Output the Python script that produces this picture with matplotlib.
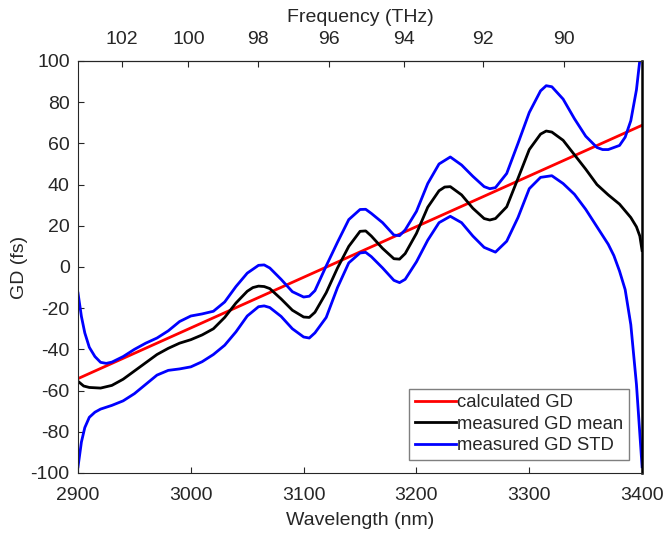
import matplotlib
matplotlib.use("Agg")
from matplotlib import pyplot as plt

plt.rcParams['font.family'] = ['Liberation Sans', 'DejaVu Sans']
plt.rcParams['axes.unicode_minus'] = False

# calculated GD (straight line)
wl_calc = [2900, 3400]
gd_calc = [-54.2, 68.8]

# measured GD mean
wl_mean = [2900, 2905, 2910, 2920, 2930, 2940, 2950, 2960, 2970, 2980, 2990,
           3000, 3010, 3020, 3030, 3040, 3050, 3055, 3060, 3065, 3070, 3080, 3090,
           3100, 3105, 3110, 3120, 3130, 3140, 3150, 3155, 3160, 3170, 3180, 3185, 3190,
           3200, 3210, 3220, 3225, 3230, 3240, 3250, 3260, 3265, 3270, 3280, 3290,
           3300, 3310, 3315, 3320, 3330, 3340, 3350, 3360, 3370, 3380, 3390,
           3395, 3398, 3400]
gd_mean = [-55.5, -57.8, -58.5, -58.8, -57.5, -54.5, -50.5, -46.5, -42.5, -39.5, -37,
           -35.3, -33, -30, -24.5, -17.5, -11.8, -10, -9.3, -9.5, -10.5, -15.5, -21,
           -24.3, -24.5, -22, -12.5, -0.5, 10, 17.3, 17.5, 15, 9, 4, 3.8, 6.5,
           16.3, 29, 37, 38.8, 39, 35, 28.5, 23.5, 22.8, 23.5, 29.2, 43,
           57, 64.5, 66, 65.5, 61.5, 54.5, 47.5, 40, 35, 30.5, 24,
           19.5, 15, 8]

# measured GD STD, upper envelope
wl_std_hi = [2900, 2903, 2906, 2910, 2915, 2920, 2925, 2930, 2940, 2950, 2960,
             2970, 2980, 2990, 3000, 3010, 3020, 3030, 3040, 3050, 3060, 3065,
             3070, 3080, 3090, 3100, 3105, 3110, 3120, 3130, 3140, 3150, 3155, 3160,
             3170, 3180, 3185, 3190, 3200, 3210, 3220, 3230, 3240, 3250, 3260,
             3265, 3270, 3280, 3290, 3300, 3310, 3315, 3320, 3330, 3340, 3350, 3360,
             3365, 3370, 3380, 3385, 3390, 3395, 3398, 3400]
gd_std_hi = [-12.7, -24, -32, -39, -43.5, -46.3, -46.8, -46.2, -43.5, -40, -37,
             -34.5, -31, -26.5, -23.8, -22.8, -21.5, -17, -9.5, -3, 0.8, 1,
             -0.5, -6, -12, -14.6, -14.2, -11.5, 0.5, 12, 23, 27.9, 28, 26,
             21.5, 15.5, 15.2, 18, 27, 40.5, 50, 53.4, 49.5, 44, 39,
             38, 38.5, 45.4, 60, 75, 85.5, 88, 87.5, 81.5, 72, 63.5, 58,
             57, 57, 59, 63, 71, 86, 100.5, 115]

# measured GD STD, lower envelope
wl_std_lo = [2900, 2903, 2906, 2910, 2915, 2920, 2930, 2940, 2950, 2960, 2970,
             2980, 2990, 3000, 3010, 3020, 3030, 3040, 3050, 3060, 3065, 3070,
             3080, 3090, 3100, 3105, 3110, 3120, 3130, 3140, 3150, 3155, 3160, 3170,
             3180, 3185, 3190, 3200, 3210, 3220, 3230, 3240, 3250, 3260, 3270,
             3280, 3290, 3300, 3310, 3320, 3330, 3340, 3350, 3360, 3370,
             3375, 3380, 3385, 3390, 3395, 3400]
gd_std_lo = [-97, -85, -78, -73, -70.5, -69, -67.2, -65, -61.5, -57, -52.5,
             -50.2, -49.5, -48.5, -46, -42.5, -38, -31.5, -23.8, -19.3, -18.9, -19.7,
             -24, -30, -34, -34.5, -32, -24.5, -10, 2, 6.8, 7.1, 5, -0.5,
             -6.5, -7.6, -6, 2.5, 13, 21.5, 24.6, 21.5, 15, 9.5, 7.2,
             12.5, 24, 38, 43.5, 44.3, 40.5, 35.3, 28, 19.5, 11,
             5.5, -2, -11, -28, -57, -97]

freq_ticks = [102, 100, 98, 96, 94, 92, 90]
C_NM_THZ = 299792.458

txt = '#262626'
fs = 14

fig, ax = plt.subplots(figsize=(6.64, 5.35), dpi=100)
fig.subplots_adjust(left=0.1175, right=0.967, bottom=0.116, top=0.886)

ax.plot(wl_calc, gd_calc, color='#ff0000', lw=2, label='calculated GD')
ax.plot(wl_mean, gd_mean, color='black', lw=2, label='measured GD mean')
ax.plot(wl_std_hi, gd_std_hi, color='#0000ff', lw=2, label='measured GD STD')
ax.plot(wl_std_lo, gd_std_lo, color='#0000ff', lw=2)

ax.set_xlim(2900, 3400)
ax.set_ylim(-100, 100)
ax.set_xticks([2900, 3000, 3100, 3200, 3300, 3400])
ax.set_yticks(range(-100, 101, 20))
ax.tick_params(direction='in', length=4, labelsize=fs, colors=txt, top=False, right=False)
ax.tick_params(axis='x', pad=10)
ax.tick_params(axis='y', pad=6)
ax.set_xlabel('Wavelength (nm)', fontsize=fs, color=txt, labelpad=6)
ax.set_ylabel('GD (fs)', fontsize=fs, color=txt, labelpad=2)
for s in ax.spines.values():
    s.set_color(txt)
ax.spines['right'].set_color('black')
ax.spines['right'].set_linewidth(1.8)

top = ax.secondary_xaxis('top', functions=(lambda x: C_NM_THZ / x, lambda f: C_NM_THZ / f))
top.set_xticks(freq_ticks)
top.tick_params(direction='in', length=4, labelsize=fs, colors=txt, pad=9)
top.set_xlabel('Frequency (THz)', fontsize=fs, color=txt, labelpad=7)

leg = ax.legend(loc='lower right', fontsize=13.3, fancybox=False, framealpha=1,
                edgecolor='#7f7f7f', handlelength=2.2, handletextpad=0.1,
                borderpad=0.3, labelspacing=0.25, borderaxespad=0.7)
for t in leg.get_texts():
    t.set_color(txt)

plt.savefig('out.png')
